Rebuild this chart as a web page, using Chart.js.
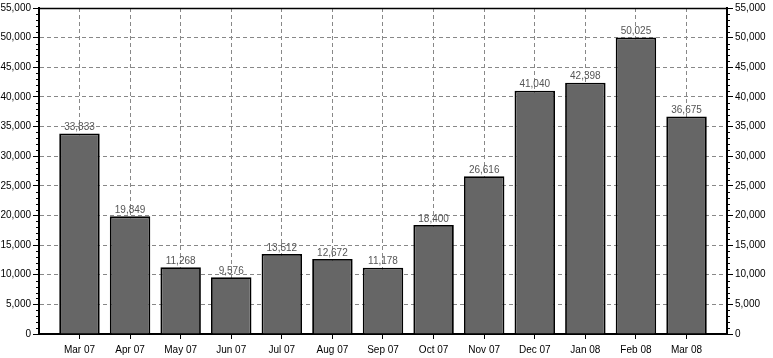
<!DOCTYPE html>
<html>
<head>
<meta charset="utf-8">
<script src="https://cdn.jsdelivr.net/npm/chart.js@4/dist/chart.umd.min.js"></script>
<style>
html,body{margin:0;padding:0;background:#fff;}
#wrap{width:773px;height:358px;position:relative;}
</style>
</head>
<body>
<div id="wrap"><canvas id="c" width="773" height="358"></canvas></div>
<script>
const categories = ["Mar 07","Apr 07","May 07","Jun 07","Jul 07","Aug 07","Sep 07","Oct 07","Nov 07","Dec 07","Jan 08","Feb 08","Mar 08"];
const values = [33833,19849,11268,9576,13512,12672,11178,18400,26616,41040,42398,50025,36675];
const yMin = 0, yMax = 55000, yStep = 5000, yMinorStep = 1000;

const fmt = v => v.toLocaleString('en-US');
const FONT = {family: '"Liberation Sans", Arial, sans-serif', size: 10};

const framePlugin = {
  id: 'frame',
  afterDatasetsDraw(chart) {
    const {ctx, chartArea: a} = chart;
    const meta = chart.getDatasetMeta(0);
    ctx.save();
    ctx.font = '10px "Liberation Sans", Arial, sans-serif';
    ctx.fillStyle = '#555';
    ctx.textAlign = 'center';
    ctx.textBaseline = 'bottom';
    meta.data.forEach((bar, i) => {
      ctx.fillText(fmt(values[i]), bar.x, bar.y - 1);
    });
    ctx.strokeStyle = '#000';
    ctx.lineWidth = 1.5;
    ctx.setLineDash([]);
    ctx.beginPath();
    ctx.moveTo(a.left, a.top + 0.5);
    ctx.lineTo(a.right, a.top + 0.5);
    ctx.stroke();
    const ys = chart.scales.y;
    ctx.lineWidth = 1;
    ctx.beginPath();
    for (let v = yMin; v <= yMax; v += yMinorStep) {
      if (v % yStep === 0) continue;
      const py = Math.round(ys.getPixelForValue(v)) + 0.5;
      ctx.moveTo(a.left - 3, py); ctx.lineTo(a.left, py);
      ctx.moveTo(a.right, py); ctx.lineTo(a.right + 3, py);
    }
    ctx.stroke();
    ctx.restore();
  }
};

new Chart(document.getElementById('c'), {
  type: 'bar',
  data: {
    datasets: [{
      data: values.map((v, i) => ({x: i, y: v})),
      backgroundColor: '#666666',
      borderColor: '#000',
      borderWidth: 1.8,
      barPercentage: 0.8,
      categoryPercentage: 1,
      yAxisID: 'y'
    }]
  },
  plugins: [framePlugin],
  options: {
    responsive: false,
    animation: false,
    devicePixelRatio: 1,
    layout: {padding: {top: 5, left: 0, right: 0, bottom: 0}},
    plugins: {legend: {display: false}, tooltip: {enabled: false}},
    scales: {
      x: {
        type: 'linear',
        offset: false,
        min: -0.8,
        max: categories.length - 0.2,
        afterBuildTicks: s => { s.ticks = categories.map((c, i) => ({value: i})); },
        afterFit: s => { s.height = 24; },
        ticks: {
          callback: v => categories[v] ?? '',
          color: '#000',
          font: FONT,
          padding: 5,
          maxRotation: 0,
          autoSkip: false
        },
        grid: {
          offset: false,
          color: '#888',
          tickColor: '#000',
          tickLength: 5,
          tickBorderDash: [],
          lineWidth: 1
        },
        border: {display: true, color: '#000', width: 2, dash: [4, 3]}
      },
      y: {
        position: 'left',
        min: yMin, max: yMax,
        afterFit: s => { s.width = 39; },
        ticks: {stepSize: yStep, callback: v => fmt(v), color: '#000', font: FONT, padding: 2},
        grid: {
          color: '#888',
          tickColor: '#000',
          tickLength: 6,
          tickBorderDash: []
        },
        border: {display: true, color: '#000', width: 2, dash: [4, 3]}
      },
      y2: {
        position: 'right',
        min: yMin, max: yMax,
        afterFit: s => { s.width = 46; },
        ticks: {stepSize: yStep, callback: v => fmt(v), color: '#000', font: FONT, padding: 2},
        grid: {drawOnChartArea: false, tickColor: '#000', tickLength: 6},
        border: {display: true, color: '#000', width: 2}
      }
    }
  }
});
</script>
</body>
</html>
